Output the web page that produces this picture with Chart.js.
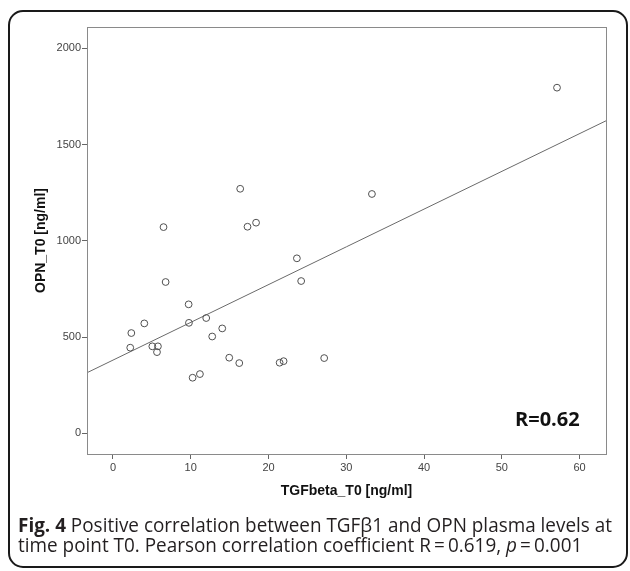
<!DOCTYPE html>
<html>
<head>
<meta charset="utf-8">
<script src="https://cdn.jsdelivr.net/npm/chart.js@4.4.1/dist/chart.umd.min.js"></script>
<style>
    html, body { margin: 0; padding: 0; background: #ffffff; }
    #wrap { position: relative; width: 630px; height: 571px; }
</style>
</head>
<body>
<div id="wrap"><canvas id="corrChart" width="630" height="571"></canvas></div>
<script>
// TGFbeta_T0 vs OPN_T0 (ng/ml), one entry per patient
const tgfbValues = [2.22, 2.36, 4.03, 5.06, 5.66, 5.78, 6.50, 6.77, 9.73, 9.77, 10.24, 11.18, 11.99, 12.76,
    14.05, 14.95, 16.24, 16.36, 17.30, 18.40, 21.43, 21.94, 23.65, 24.20, 27.16, 33.30, 57.10];
const opnValues = [445, 521, 571, 452, 422, 452, 1071, 786, 670, 574, 289, 308, 599, 503,
    545, 393, 365, 1270, 1073, 1094, 367, 375, 909, 791, 391, 1243, 1795];

// Linear fit, end points at the plot edges
const fitX = [-3.34, 63.4];
const fitY = [315, 1623];

const xTicks = [0, 10, 20, 30, 40, 50, 60];
const yTicks = [0, 500, 1000, 1500, 2000];
const xRange = [-3.34, 63.4];
const yRange = [-107, 2110];

const rLabel = 'R=0.62';
const captionLines = [
    [{ text: 'Fig. 4', style: 'bold' }, { text: ' Positive correlation between TGF\u03B21 and OPN plasma levels at', style: '' }],
    [{ text: 'time point T0. Pearson correlation coefficient R\u2009=\u20090.619, ', style: '' },
     { text: 'p', style: 'italic' }, { text: '\u2009=\u20090.001', style: '' }]
];

const scatterData = tgfbValues.map((x, i) => ({ x: x, y: opnValues[i] }));
const fitData = fitX.map((x, i) => ({ x: x, y: fitY[i] }));

const tickFont = { family: 'Liberation Sans, Arial, sans-serif', size: 11 };
const titleFont = { family: 'Liberation Sans, Arial, sans-serif', size: 14, weight: 'bold' };

// frame round the plot, rounded outer box, R label and caption
const decorPlugin = {
    id: 'decor',
    afterDraw(chart) {
        const ctx = chart.ctx;
        const area = chart.chartArea;
        ctx.save();

        ctx.strokeStyle = '#8a8a8a';
        ctx.lineWidth = 1;
        ctx.strokeRect(Math.round(area.left) + 0.5, Math.round(area.top) + 0.5,
            Math.round(area.right - area.left), Math.round(area.bottom - area.top));

        ctx.strokeStyle = '#1a1a1a';
        ctx.lineWidth = 2;
        ctx.beginPath();
        ctx.roundRect(9, 11, 618, 556, 14);
        ctx.stroke();

        // R label, squeezed to its printed width
        ctx.fillStyle = '#111111';
        ctx.textBaseline = 'alphabetic';
        ctx.font = 'bold 20px "Open Sans", sans-serif';
        ctx.fillText(rLabel, 515, 426, 65);

        // caption, both lines share one horizontal squeeze
        ctx.fillStyle = '#231f20';
        const fontFor = (style) => (style ? style + ' ' : '') + '20px "Open Sans", sans-serif';
        const widthOf = (line) => line.reduce((w, run) => {
            ctx.font = fontFor(run.style);
            return w + ctx.measureText(run.text).width;
        }, 0);
        const sx = 594 / widthOf(captionLines[0]);
        const baselines = [532, 552];
        captionLines.forEach((line, li) => {
            ctx.save();
            ctx.translate(18, baselines[li]);
            ctx.scale(sx, 1);
            let x = 0;
            line.forEach(run => {
                ctx.font = fontFor(run.style);
                ctx.fillText(run.text, x, 0);
                x += ctx.measureText(run.text).width;
            });
            ctx.restore();
        });

        ctx.restore();
    }
};

new Chart(document.getElementById('corrChart'), {
    type: 'scatter',
    data: {
        datasets: [
            {
                type: 'line',
                data: fitData,
                borderColor: '#6a6a6a',
                borderWidth: 1,
                pointRadius: 0,
                fill: false,
                order: 2
            },
            {
                data: scatterData,
                pointStyle: 'circle',
                pointRadius: 3.4,
                pointBackgroundColor: 'rgba(255, 255, 255, 0)',
                pointBorderColor: '#505050',
                pointBorderWidth: 1,
                order: 1
            }
        ]
    },
    options: {
        responsive: false,
        animation: false,
        layout: { padding: { top: 27, right: 24, left: 0, bottom: 0 } },
        scales: {
            x: {
                type: 'linear',
                min: xRange[0],
                max: xRange[1],
                afterBuildTicks: (axis) => { axis.ticks = xTicks.map(v => ({ value: v })); },
                afterFit: (axis) => { axis.height = 117; },
                ticks: { color: '#444444', font: tickFont, padding: 2, maxRotation: 0, callback: (v) => String(v) },
                grid: { drawOnChartArea: false, drawTicks: true, tickLength: 5, tickColor: '#666666' },
                border: { display: false },
                title: {
                    display: true,
                    text: 'TGFbeta_T0 [ng/ml]',
                    color: '#111111',
                    font: titleFont,
                    padding: { top: 0, bottom: 71.6 }
                }
            },
            y: {
                type: 'linear',
                min: yRange[0],
                max: yRange[1],
                afterBuildTicks: (axis) => { axis.ticks = yTicks.map(v => ({ value: v })); },
                afterFit: (axis) => { axis.width = 87; },
                ticks: { color: '#444444', font: tickFont, padding: 1, callback: (v) => String(v) },
                grid: { drawOnChartArea: false, drawTicks: true, tickLength: 5, tickColor: '#666666' },
                border: { display: false },
                title: {
                    display: true,
                    text: 'OPN_T0 [ng/ml]',
                    color: '#111111',
                    font: titleFont,
                    padding: { top: 33, bottom: 0 }
                }
            }
        },
        plugins: {
            legend: { display: false },
            tooltip: { enabled: false }
        }
    },
    plugins: [decorPlugin]
});
</script>
</body>
</html>
